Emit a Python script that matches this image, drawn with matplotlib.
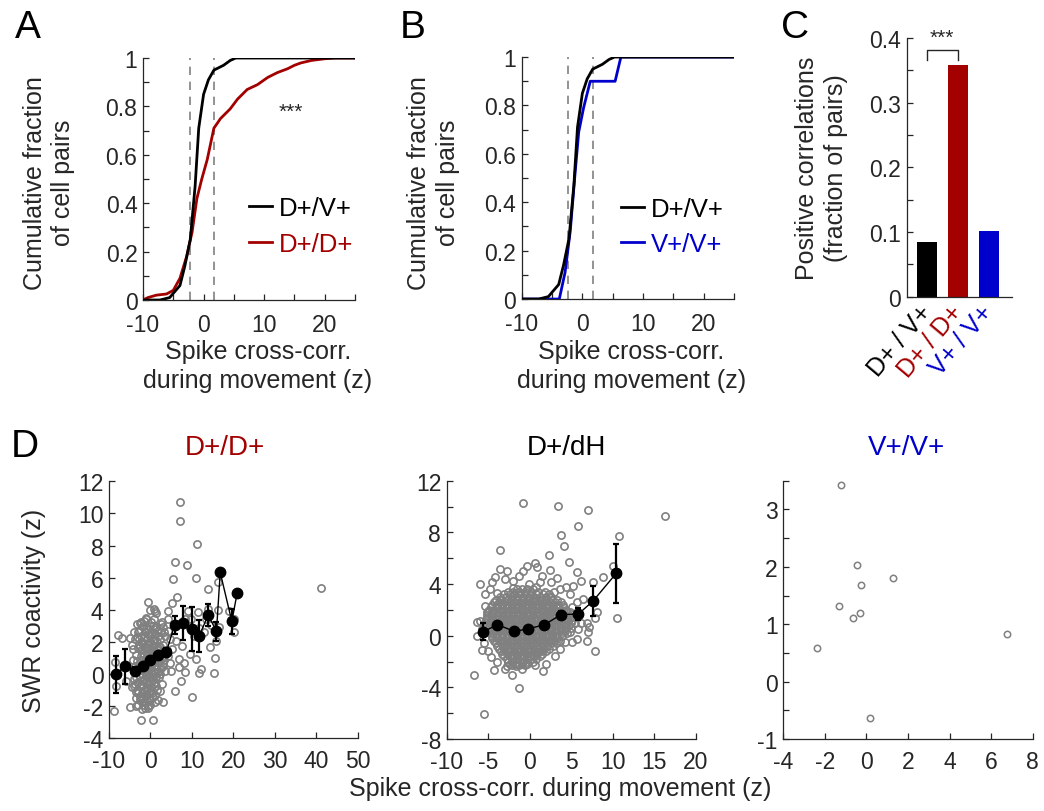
import matplotlib
matplotlib.use("Agg")
import matplotlib.pyplot as plt
import matplotlib.ticker as mticker

plt.rcParams["font.family"] = ["Liberation Sans", "DejaVu Sans"]
plt.rcParams["axes.unicode_minus"] = False

RED = "#a30000"
BLUE = "#0000cc"
GRAY = "#808080"
INK = "#262626"

# --- A / B: cumulative distributions -------------------------------------
dv_x = [-10, -7.2, -5.6, -3.9, -3.1, -2.2, -1.4, -0.8, 0.0, 0.8, 1.7, 2.5, 3.3, 4.4, 5.3, 25]
dv_y = [0, 0, 0.01, 0.06, 0.14, 0.25, 0.47, 0.71, 0.85, 0.91, 0.95, 0.96, 0.97, 0.99, 1.0, 1.0]

dd_x = [-10, -9.2, -7.8, -6.1, -5.0, -3.9, -2.8, -1.9, -1.1, -0.3, 0.6, 1.7, 2.8, 4.4, 5.6,
        7.2, 8.9, 10.6, 12.2, 13.9, 15.0, 16.1, 17.8, 20.0, 21.7, 25]
dd_y = [0, 0.01, 0.02, 0.025, 0.04, 0.09, 0.18, 0.28, 0.42, 0.50, 0.58, 0.71, 0.75, 0.79, 0.83,
        0.87, 0.89, 0.92, 0.94, 0.956, 0.97, 0.98, 0.99, 0.997, 1.0, 1.0]

vv_x = [-10, -3.8, -2.85, -2.0, -1.2, -0.6, 0.2, 1.3, 5.4, 6.35, 25]
vv_y = [0, 0, 0.11, 0.28, 0.52, 0.69, 0.79, 0.90, 0.90, 1.0, 1.0]

thresholds = [-2.3, 1.75]

# --- C: fraction of positive correlations ----------------------------------
pair_labels = ["D+ / V+", "D+ / D+", "V+ / V+"]
pos_frac = [0.084, 0.358, 0.102]

# --- D: SWR coactivity vs spike cross-corr --------------------------------
dd_pts = [
    (7.0, 10.73), (7.2, 9.55), (11.2, 8.12), (5.8, 7.0), (8.9, 6.8), (5.4, 5.9), (11.0, 6.0),
    (13.9, 5.3), (16.3, 5.75), (41.2, 5.34), (6.5, 4.78), (-0.7, 4.5), (0.76, 4.05), (1.1, 3.9),
    (4.1, 3.9), (5.3, 4.4), (9.0, 3.9), (11.4, 3.85), (13.9, 4.05), (16.3, 4.0), (18.9, 3.9),
    (20.2, 3.43), (20.1, 2.6), (-7.8, 2.43), (-6.9, 2.25), (-4.9, 2.25), (-8.6, 0.73),
    (-8.4, -0.72), (-8.9, -2.32), (-4.9, -2.07), (-2.4, -2.86), (0.6, -2.86), (-6.0, -0.4),
    (7.35, -0.4), (6.0, -1.03), (10.0, -1.4), (15.4, 0.06), (11.6, 0.05), (12.2, 0.32),
    (15.6, 0.98), (14.4, 1.67), (9.6, 1.25), (8.4, 0.15), (6.8, 0.42), (5.0, 0.17), (6.8, 0.94),
    (8.0, 0.69), (7.6, 1.77), (5.3, 1.56), (6.1, 2.08), (11.0, 0.94), (10.5, 2.35), (11.8, 2.85),
    (12.8, 2.6), (13.3, 3.43), (14.6, 3.06), (16.5, 2.93), (15.9, 2.08), (9.3, 3.0), (9.8, 3.43),
    (8.2, 3.43), (4.1, 3.43), (2.85, 3.22), (1.4, 2.9), (3.25, 2.6), (4.6, 2.2), (2.05, 1.77),
    (4.1, 1.15), (3.0, 0.52), (1.8, 0.11), (1.4, -0.72), (2.2, -1.03), (3.0, -1.76), (1.0, -1.76),
    (-0.6, -1.97), (-1.8, -1.76), (-2.6, -1.45), (-3.6, -1.13), (-3.9, -0.72), (-4.2, 1.56),
    (-3.8, 2.18), (-3.0, 2.6), (-3.25, 3.12), (-2.2, 3.22), (-1.0, 3.43), (0.2, 3.22),
    (-4.5, -0.8), (-4.0, -0.3), (-3.8, 0.5), (-3.5, 1.2), (-3.3, -1.0), (-3.0, -0.5), (-3.0, 0.3),
    (-2.8, 1.8), (-2.7, 2.7), (-2.5, -1.6), (-2.5, -0.2), (-2.4, 0.8), (-2.2, 1.5), (-2.2, 2.4),
    (-2.0, -1.2), (-2.0, 0.0), (-1.9, 3.0), (-1.8, -0.7), (-1.8, 0.6), (-1.7, 1.9), (-1.6, -1.9),
    (-1.5, -0.3), (-1.5, 1.2), (-1.4, 2.6), (-1.3, 0.2), (-1.2, -1.3), (-1.2, -0.9), (-1.1, 0.9),
    (-1.0, 1.6), (-1.0, -0.1), (-0.9, 2.2), (-0.8, -1.6), (-0.8, 0.5), (-0.7, -0.6), (-0.6, 1.3),
    (-0.5, 2.8), (-0.5, 0.0), (-0.4, -1.1), (-0.3, 0.8), (-0.3, 1.9), (-0.2, -0.4), (-0.1, 2.4),
    (0.0, -1.9), (0.0, 0.3), (0.1, 1.1), (0.2, -0.8), (0.3, 1.7), (0.4, 0.6), (0.5, -0.2),
    (0.5, 2.1), (0.6, 3.0), (0.7, -1.4), (0.8, 0.9), (0.9, 1.5), (1.0, 0.1), (1.0, 2.5),
    (1.2, -0.5), (1.3, 1.2), (1.4, 0.5), (1.5, 2.0), (1.6, -1.0), (1.7, 1.6), (1.8, 2.7),
    (2.0, 0.8), (2.1, -0.2), (2.2, 1.3), (2.4, 2.2), (2.5, 0.4), (2.7, 1.0), (2.8, -0.6),
    (3.0, 1.8), (3.2, 0.9), (3.5, 2.4), (3.6, 0.2), (4.0, 1.5), (4.3, 2.7), (4.6, 0.7),
    (-3.6, -1.5), (-4.2, 0.9), (-2.9, -1.9), (-1.4, -2.1), (-0.2, -1.6), (1.1, -1.3), (-3.9, 2.6),
    (-4.4, 1.8), (-2.6, 3.2), (0.9, 3.4), (2.6, 3.1), (-1.0, 3.5), (-2.0, -2.2), (-3.4, -2.0),
    (-0.5, -2.1), (1.7, -1.6), (2.9, 2.9), (-0.1, 4.0), (1.3, 3.8),
    (-3.5, -0.2), (-3.2, 0.8), (-3.1, 1.6), (-2.9, -1.2), (-2.6, 0.5), (-2.4, 1.1), (-2.3, -0.7),
    (-2.1, 2.0), (-1.9, -0.4), (-1.9, 1.3), (-1.7, 0.3), (-1.6, 2.3), (-1.5, -1.0), (-1.4, 0.7),
    (-1.3, 1.7), (-1.2, -0.5), (-1.1, 2.8), (-1.0, 0.4), (-0.9, -1.3), (-0.9, 1.2), (-0.8, 1.9),
    (-0.7, 0.1), (-0.6, -0.9), (-0.6, 2.5), (-0.5, 0.7), (-0.4, 1.6), (-0.3, -0.2), (-0.2, 1.0),
    (-0.1, -1.2), (0.0, 2.0), (0.1, 0.6), (0.2, 1.4), (0.3, -0.4), (0.4, 2.6), (0.5, 0.2),
    (0.6, 1.0), (0.7, 1.8), (0.8, -0.6), (0.9, 0.5), (1.1, 2.2), (1.2, 0.9), (1.3, -0.2),
    (1.5, 1.5), (1.6, 0.3), (1.9, 2.4), (2.0, 1.1), (2.3, 0.0), (2.4, 1.7), (2.6, 2.6), (2.9, 0.7),
    (3.3, 1.4), (-3.8, -0.6), (-2.8, 2.2), (-2.1, -1.5), (-1.3, -1.7), (-0.4, -1.5), (0.4, -1.2),
    (-4.0, 0.2), (-3.3, 2.3), (-0.2, 3.0), (0.8, 2.8), (-1.6, 3.3), (-2.0, 0.9), (-0.8, -0.2),
    (0.3, 0.0), (1.0, 1.3), (-1.2, 0.0), (-2.5, 1.7),
]
dd_mx = [-8.4, -6.1, -3.65, -1.8, -0.04, 1.9, 3.8, 5.8, 7.75, 9.9, 11.7, 13.9, 15.9, 16.8, 19.6, 20.9]
dd_my = [0.0, 0.48, 0.2, 0.52, 0.9, 1.2, 1.35, 3.05, 3.16, 2.8, 2.35, 3.68, 2.66, 6.33, 3.28, 5.07]
dd_err = [1.15, 1.1, 0.25, 0.1, 0.1, 0.1, 0.3, 0.55, 1.05, 1.37, 1.0, 0.67, 0.6, 0, 0.78, 0]

dh_pts = [
    (-0.77, 10.3), (3.44, 10.06), (7.0, 9.75), (16.3, 9.26), (5.76, 8.52), (3.8, 7.77),
    (4.12, 6.94), (10.7, 7.72), (-3.54, 6.6), (2.31, 6.25), (10.06, 5.4), (4.76, 5.68),
    (0.59, 5.63), (-2.7, 4.98), (-3.58, 5.16), (-5.99, 4.0), (8.85, 4.52), (7.57, 4.13),
    (6.12, 4.2), (5.64, 4.9), (2.43, 5.1), (10.5, 1.34), (7.9, -1.16), (6.85, -0.39),
    (7.05, 0.26), (5.64, -0.26), (5.1, -0.46), (4.84, 0.26), (-6.39, 1.08), (-6.39, 0.0),
    (-5.7, -1.14), (-4.66, -1.63), (-4.26, -2.66), (-6.7, -3.07), (-2.14, -3.05), (-1.3, -4.03),
    (-5.55, -6.04), (1.63, -2.76), (-2.78, -2.32), (-1.66, -2.32), (8.05, 1.8), (7.9, 1.39),
    (6.9, 0.98), (7.1, 0.64), (6.2, 0.98), (4.44, 1.29), (5.08, 2.19), (6.44, 2.84),
    (5.64, 2.58), (4.84, 3.23), (5.24, 3.87), (4.36, 3.79), (3.64, 3.61), (3.32, 4.44),
    (2.6, 4.13), (1.44, 4.65), (1.24, 4.13), (-0.05, 4.0), (0.83, 5.29), (-0.37, 5.42),
    (-0.85, 5.03), (-1.34, 4.65), (-1.98, 4.26), (-2.98, 4.39), (-4.18, 4.52), (-4.58, 4.13),
    (-4.79, 3.61), (-5.39, 3.23), (-5.19, 1.81), (-5.39, 2.32),
    (-6.0, 1.1), (-5.8, 0.5), (-5.5, -0.6), (-5.0, -1.2), (-3.9, -2.0), (-3.0, -2.6),
    (-0.9, -2.6), (0.6, -2.3), (2.0, -2.2), (3.0, -1.6), (3.6, -1.0), (4.2, -0.5), (4.8, 1.8),
    (5.5, 1.5), (5.8, 0.5), (2.9, 3.4), (-4.0, 3.3), (-2.0, 3.7), (0.8, 3.8), (1.8, 3.4),
]
# dense core of the D+/dH cloud, read row by row
dh_core_y = [3.6, 3.4, 3.2, 3.0, 2.8, 2.6, 2.4, 2.2, 2.0, 1.8, 1.6, 1.4, 1.2, 1.0, 0.8, 0.6,
             0.4, 0.2, 0.0, -0.2, -0.4, -0.6, -0.8, -1.0, -1.2, -1.4, -1.6, -1.8, -2.0, -2.2, -2.3]
dh_core_x = [
    [-1.6, -0.9, -0.3, 0.4],
    [-2.6, -2.0, -1.3, -0.6, 0.2, 1.0],
    [-3.1, -2.4, -1.9, -1.2, -0.6, 0.1, 0.7, 1.6, 2.3],
    [-3.6, -2.9, -2.1, -1.5, -0.8, -0.1, 0.5, 1.2, 1.9, 2.6],
    [-4.1, -3.5, -2.8, -2.3, -1.6, -1.0, -0.4, 0.3, 0.8, 1.5, 2.0, 2.7, 3.3],
    [-4.3, -3.7, -3.0, -2.4, -1.8, -1.2, -0.6, 0.0, 0.6, 1.2, 1.8, 2.4, 3.0, 3.7],
    [-4.6, -3.9, -3.3, -2.6, -2.1, -1.4, -0.9, -0.2, 0.3, 1.0, 1.5, 2.2, 2.7, 3.4, 4.0],
    [-4.7, -4.0, -3.4, -2.8, -2.2, -1.6, -1.0, -0.4, 0.3, 0.9, 1.5, 2.1, 2.8, 3.3, 4.0],
    [-4.9, -4.3, -3.6, -3.1, -2.4, -1.8, -1.1, -0.6, 0.1, 0.6, 1.3, 1.8, 2.5, 3.0, 3.7, 4.3],
    [-5.0, -4.5, -3.8, -3.3, -2.7, -2.1, -1.5, -0.9, -0.3, 0.3, 0.9, 1.5, 2.1, 2.6, 3.2, 3.8, 4.4],
    [-5.1, -4.4, -3.9, -3.2, -2.6, -2.0, -1.3, -0.8, -0.1, 0.4, 1.1, 1.6, 2.3, 2.8, 3.5, 4.0, 4.7],
    [-5.2, -4.6, -4.1, -3.4, -2.9, -2.3, -1.7, -1.1, -0.5, 0.1, 0.7, 1.3, 1.9, 2.4, 3.0, 3.6, 4.2, 4.8],
    [-5.3, -4.7, -4.0, -3.5, -2.8, -2.2, -1.5, -1.0, -0.3, 0.2, 0.9, 1.4, 2.1, 2.6, 3.3, 3.8, 4.5, 5.1],
    [-5.3, -4.8, -4.2, -3.6, -3.0, -2.4, -1.8, -1.2, -0.6, 0.0, 0.6, 1.2, 1.8, 2.4, 3.0, 3.6, 4.3, 4.9, 5.4],
    [-5.1, -4.4, -3.8, -3.1, -2.6, -1.9, -1.4, -0.7, -0.2, 0.5, 1.0, 1.7, 2.2, 2.9, 3.4, 4.1, 4.7],
    [-5.0, -4.6, -4.0, -3.4, -2.8, -2.2, -1.6, -1.0, -0.4, 0.2, 0.8, 1.4, 2.0, 2.6, 3.2, 3.8, 4.4, 5.0],
    [-4.9, -4.2, -3.7, -3.0, -2.4, -1.8, -1.1, -0.6, 0.1, 0.6, 1.3, 1.8, 2.5, 3.0, 3.7, 4.2],
    [-4.8, -4.4, -3.9, -3.3, -2.7, -2.1, -1.5, -0.9, -0.3, 0.3, 0.9, 1.5, 2.1, 2.7, 3.3, 3.9, 4.5],
    [-4.6, -4.0, -3.3, -2.8, -2.1, -1.6, -0.9, -0.4, 0.3, 0.8, 1.5, 2.0, 2.7, 3.2, 3.9],
    [-4.5, -3.9, -3.4, -2.7, -2.2, -1.5, -1.0, -0.3, 0.2, 0.9, 1.4, 2.1, 2.6, 3.3],
    [-4.3, -3.6, -3.1, -2.4, -1.9, -1.2, -0.7, 0.0, 0.5, 1.2, 1.7, 2.4, 2.9, 3.6],
    [-4.1, -3.5, -2.9, -2.3, -1.7, -1.1, -0.5, 0.1, 0.7, 1.3, 1.9, 2.5, 3.1],
    [-3.9, -3.2, -2.7, -2.0, -1.5, -0.8, -0.3, 0.4, 0.9, 1.6, 2.1, 2.8],
    [-3.7, -3.1, -2.5, -1.9, -1.3, -0.7, -0.1, 0.5, 1.1, 1.7, 2.3],
    [-3.5, -2.8, -2.3, -1.6, -1.1, -0.4, 0.1, 0.8, 1.3, 2.0],
    [-3.3, -2.7, -2.1, -1.5, -0.9, -0.3, 0.3, 0.9, 1.5],
    [-3.1, -2.4, -1.9, -1.2, -0.7, 0.0, 0.5, 1.2],
    [-2.8, -2.2, -1.6, -1.0, -0.4, 0.2, 0.8],
    [-2.6, -2.0, -1.5, -0.8, -0.3, 0.4],
    [-2.4, -1.7, -1.0, -0.3],
    [-2.1, -1.3, -0.6],
]
dh_mx = [-5.6, -3.9, -1.86, -0.25, 1.75, 3.76, 5.84, 7.57, 10.4]
dh_my = [0.31, 0.85, 0.34, 0.52, 0.85, 1.63, 1.68, 2.66, 4.83]
dh_err = [0.65, 0.2, 0.15, 0.15, 0.15, 0.32, 0.5, 1.15, 2.3]

vv_sx = [-1.22, -0.44, -0.28, 1.29, -1.32, -0.66, -0.33, -2.36, 6.78, 0.17]
vv_sy = [3.42, 2.03, 1.68, 1.80, 1.31, 1.10, 1.19, 0.58, 0.83, -0.63]


def style(ax, xlim, ylim, xmaj, ymaj, xmin=None, ymin=None, xpad=8):
    for s in ("top", "right"):
        ax.spines[s].set_visible(False)
    for s in ("left", "bottom"):
        ax.spines[s].set_color(INK)
        ax.spines[s].set_linewidth(0.9)
    ax.set_xlim(*xlim)
    ax.set_ylim(*ylim)
    ax.xaxis.set_major_locator(mticker.MultipleLocator(xmaj))
    ax.yaxis.set_major_locator(mticker.MultipleLocator(ymaj))
    if xmin:
        ax.xaxis.set_minor_locator(mticker.MultipleLocator(xmin))
    if ymin:
        ax.yaxis.set_minor_locator(mticker.MultipleLocator(ymin))
    ax.xaxis.set_major_formatter(mticker.FormatStrFormatter("%g"))
    ax.yaxis.set_major_formatter(mticker.FormatStrFormatter("%g"))
    ax.tick_params(which="both", direction="in", length=4, width=0.9, color=INK,
                   labelsize=16.5, labelcolor=INK)
    ax.tick_params(axis="y", pad=4)
    ax.tick_params(axis="x", pad=xpad)


fig = plt.figure(figsize=(10.44, 8.12), dpi=100)

# A
axA = fig.add_axes([0.137, 0.6293, 0.203, 0.298])
style(axA, (-10, 25), (0, 1), 10, 0.2, 5, 0.1, xpad=9.5)
for t in thresholds:
    axA.axvline(t, color=GRAY, ls=(0, (5, 4)), lw=1.2, zorder=1)
axA.plot(dd_x, dd_y, color=RED, lw=2, label="D+/D+", zorder=3)
axA.plot(dv_x, dv_y, color="black", lw=2, label="D+/V+", zorder=4)
h, l = axA.get_legend_handles_labels()
legA = axA.legend(h[::-1], l[::-1], loc="center right", bbox_to_anchor=(0.99, 0.305),
                  frameon=False, fontsize=18.5, handlelength=0.9, handletextpad=0.25,
                  labelspacing=0.45, borderpad=0, borderaxespad=0)
for txt, c in zip(legA.get_texts(), ["black", RED]):
    txt.set_color(c)
axA.text(14.4, 0.78, "***", ha="center", va="center", fontsize=15, color=INK)

# B
axB = fig.add_axes([0.4997, 0.6305, 0.2034, 0.298])
style(axB, (-10, 25), (0, 1), 10, 0.2, 5, 0.1, xpad=9.5)
for t in thresholds:
    axB.axvline(t, color=GRAY, ls=(0, (5, 4)), lw=1.2, zorder=1)
axB.plot(vv_x, vv_y, color=BLUE, lw=2, label="V+/V+", zorder=3)
axB.plot(dv_x, dv_y, color="black", lw=2, label="D+/V+", zorder=4)
h, l = axB.get_legend_handles_labels()
legB = axB.legend(h[::-1], l[::-1], loc="center right", bbox_to_anchor=(0.95, 0.30),
                  frameon=False, fontsize=18.5, handlelength=0.9, handletextpad=0.25,
                  labelspacing=0.45, borderpad=0, borderaxespad=0)
for txt, c in zip(legB.get_texts(), ["black", BLUE]):
    txt.set_color(c)

for xc in (0.247, 0.605):
    fig.text(xc, 0.549, "Spike cross-corr.\nduring movement (z)", ha="center", va="center",
             fontsize=18, color=INK, linespacing=1.25)
for xc in (0.047, 0.415):
    fig.text(xc, 0.775, "Cumulative fraction\nof cell pairs", ha="center", va="center",
             rotation=90, fontsize=18, color=INK, linespacing=1.25)

# C
axC = fig.add_axes([0.8685, 0.6334, 0.1006, 0.3186])
style(axC, (0.35, 3.75), (0, 0.4), 1, 0.1, None, 0.05)
axC.bar([1, 2, 3], pos_frac, width=0.65, color=["black", RED, BLUE])
axC.set_xticks([1, 2, 3])
axC.set_xticklabels(pair_labels, rotation=50, ha="right", va="center",
                    rotation_mode="anchor", fontsize=18)
axC.tick_params(axis="x", length=0, pad=8)
for tl, c in zip(axC.get_xticklabels(), ["black", RED, BLUE]):
    tl.set_color(c)
axC.plot([1, 1, 2, 2], [0.366, 0.381, 0.381, 0.366], color=INK, lw=1, clip_on=False)
axC.text(1.5, 0.386, "***", ha="center", va="bottom", fontsize=15, color=INK)
fig.text(0.787, 0.793, "Positive correlations\n(fraction of pairs)", ha="center", va="center",
         rotation=90, fontsize=18, color=INK, linespacing=1.25)

# D
scat = dict(ls="none", marker="o", mfc="none", mec=GRAY, ms=5.2, mew=1.2, zorder=2)
mean = dict(color="black", marker="o", ms=7.5, lw=1, elinewidth=1.6, capsize=2.5,
            capthick=1.6, zorder=4)

axD1 = fig.add_axes([0.1044, 0.0895, 0.2385, 0.3165])
style(axD1, (-10, 50), (-4, 12), 10, 2)
axD1.plot([p[0] for p in dd_pts], [p[1] for p in dd_pts], **scat)
axD1.errorbar(dd_mx, dd_my, yerr=dd_err, **mean)

axD2 = fig.add_axes([0.4279, 0.0887, 0.2388, 0.318])
style(axD2, (-10, 20), (-8, 12), 5, 4, None, 2)
core_x = [x for row in dh_core_x for x in row]
core_y = [y for y, row in zip(dh_core_y, dh_core_x) for _ in row]
axD2.plot(core_x, core_y, **scat)
axD2.plot([p[0] for p in dh_pts], [p[1] for p in dh_pts], **scat)
axD2.errorbar(dh_mx, dh_my, yerr=dh_err, **mean)

axD3 = fig.add_axes([0.7503, 0.0887, 0.2389, 0.318])
style(axD3, (-4, 8), (-1, 3.5), 2, 1, None, 0.5)
axD3.plot(vv_sx, vv_sy, **dict(scat, ms=4.6, mew=1.1))

fig.text(0.2155, 0.4397, "D+/D+", ha="center", va="baseline", fontsize=20, color=RED)
fig.text(0.543, 0.4397, "D+/dH", ha="center", va="baseline", fontsize=20, color="black")
fig.text(0.8685, 0.4397, "V+/V+", ha="center", va="baseline", fontsize=20, color=BLUE)
fig.text(0.0326, 0.248, "SWR coactivity (z)", ha="center", va="center", rotation=90,
         fontsize=18, color=INK)
fig.text(0.537, 0.028, "Spike cross-corr. during movement (z)", ha="center", va="center",
         fontsize=18, color=INK)

# panel letters
for x, y, s in [(0.0144, 0.953, "A"), (0.383, 0.953, "B"), (0.748, 0.953, "C"), (0.0105, 0.437, "D")]:
    fig.text(x, y, s, ha="left", va="baseline", fontsize=28, color="black")

fig.savefig("out.png", dpi=100)
